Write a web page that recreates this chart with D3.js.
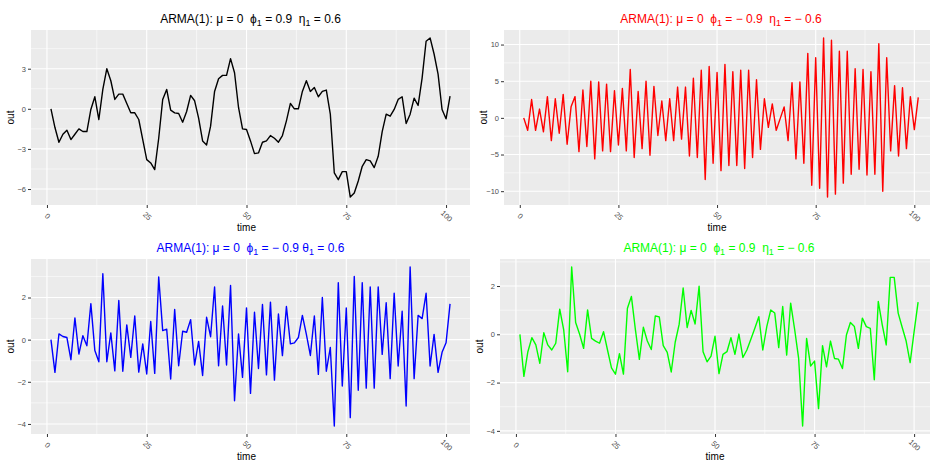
<!DOCTYPE html>
<html>
<head>
<meta charset="utf-8">
<script src="https://cdn.jsdelivr.net/npm/d3@7"></script>
<style>
  body { margin: 0; background: #fff; }
  svg { font-family: "Liberation Sans", Arial, sans-serif; }
  .title { white-space: pre; }
</style>
</head>
<body>
<svg id="chart" width="930" height="464"></svg>
<script>
// time index 1..101 (same for all four series)
const time = d3.range(1, 102)

// series values
const armaPos = [0, -1.4, -2.5, -1.9, -1.6, -2.3, -1.9, -1.5, -1.7, -1.7,
  -0.05, 0.9, -0.8, 1.45, 3.0, 2.1, 0.7, 1.1, 1.1, 0.4,
  -0.3, -0.3, -0.8, -2.3, -3.8, -4.05, -4.55, -2.2, 0.7, 1.45,
  -0.1, -0.3, -0.35, -1.0, -0.2, 1.0, 0.6, -0.7, -2.4, -2.7,
  -1.3, 1.3, 2.25, 2.5, 2.5, 3.75, 2.7, 0.1, -1.5, -1.55,
  -2.4, -3.35, -3.3, -2.5, -2.4, -2.0, -2.2, -2.5, -2.0, -0.9,
  0.4, 0.0, 0.0, 1.3, 2.1, 1.3, 1.6, 0.9, 1.3, 1.4,
  -0.4, -4.8, -5.3, -4.7, -4.7, -6.6, -6.3, -5.4, -4.3, -3.8,
  -3.9, -4.4, -3.55, -1.7, -0.4, -0.55, -0.05, 0.7, 0.9, -1.1,
  -0.4, 0.8, 0.25, 2.3, 5.05, 5.3, 4.1, 2.6, -0.05, -0.75, 0.95]

const armaNeg = [0, -1.7, 2.5, -1.7, 1.2, -1.9, 2.9, -3.1, 2.6, -2.1,
  3.2, -3.6, 1.5, 2.9, -4.6, 3.8, -3.9, 5.0, -5.6, 4.9,
  -4.5, 4.6, -4.6, 3.7, -3.7, 4.0, -4.5, 6.6, -5.4, 3.6,
  -4.2, 5.0, -5.1, 4.3, -2.4, 2.3, -3.1, 2.6, -3.1, 4.2,
  -2.9, 4.2, -5.2, 5.4, -5.4, 6.5, -8.4, 7.0, -6.2, 6.2,
  -7.2, 7.3, -6.5, 6.3, -6.5, 6.5, -6.9, 6.5, -5.4, 5.2,
  -4.3, 2.6, -1.3, 1.9, -1.7, -0.1, 1.5, -3.1, 4.8, -5.6,
  4.9, -6.2, 8.8, -9.2, 8.2, -9.6, 10.9, -10.8, 10.6, -10.4,
  9.1, -8.9, 9.1, -7.7, 6.7, -7.0, 6.6, -7.8, 6.3, -7.7,
  10.1, -10.0, 8.2, -4.5, 4.4, -5.2, 4.1, -4.2, 2.9, -1.6, 2.8]

const armaMixA = [0, -1.55, 0.27, 0.15, 0.1, -0.95, 1.03, -0.68, 0.19, -0.29,
  1.71, -0.52, -1.05, 3.13, -1.05, 0.32, -1.48, 1.86, -1.5, 0.7,
  -0.84, 1.12, -1.54, -0.2, -1.63, 0.86, -1.6, 2.97, 0.43, 0.5,
  -1.87, 1.43, -1.24, 0.4, 0.35, 0.95, -1.2, -0.08, -1.7, 1.06,
  0.14, 2.5, -1.24, 1.6, -1.2, 2.57, -2.9, 0.27, -1.79, 1.51,
  -2.55, 1.3, -1.37, 1.67, -1.67, 1.78, -1.92, 1.22, -0.76, 1.57,
  -0.2, -0.15, 0.1, 1.15, 0.25, -0.75, 1.12, -1.65, 2.0, -1.5,
  -0.37, -4.1, 2.7, -2.2, 1.5, -3.7, 3.0, -2.4, 2.7, -2.3,
  2.5, -2.3, 2.5, -0.7, 1.75, -1.85, 2.2, -1.25, 1.35, -3.15,
  3.45, -1.85, 1.15, 1.0, 2.2, -1.25, 0.25, -1.55, -0.6, -0.15, 1.7]

const armaMixB = [0, -1.74, -0.72, -0.14, -0.44, -1.2, 0.07, -0.44, -0.65, -0.37,
  1.04, 0.18, -1.55, 2.79, 0.49, 0.0, -0.58, 1.01, -0.17, -0.28,
  -0.37, 0.11, -0.65, -1.39, -1.65, -0.8, -1.65, 1.08, 1.57, 0.2,
  -1.04, 0.29, -0.28, -0.63, 0.76, 0.72, -0.47, -0.75, -1.56, -0.33,
  0.42, 1.92, 0.28, 0.99, 0.43, 1.99, -0.72, -1.14, -0.9, -0.08,
  -1.63, -0.83, -0.72, -0.14, -0.83, 0.01, -0.96, -0.65, -0.2, 0.25,
  0.73, -0.65, 0.32, 1.01, 0.88, -0.55, 1.15, -0.86, 1.29, 0.2,
  -1.0, -3.8, -0.17, -1.31, -1.11, -3.08, -0.47, -1.35, -0.28, -1.0,
  -1.03, -1.42, -0.03, 0.49, 0.32, -0.58, 0.67, 0.32, 0.25, -1.88,
  1.36, 0.39, -0.44, 2.36, 2.36, 0.88, 0.29, -0.28, -1.17, 0.11, 1.33]

// axis breaks
const xBreaks = [0, 25, 50, 75, 100]
const yBreaksPos = [-6, -3, 0, 3]
const yBreaksNeg = [-10, -5, 0, 5, 10]
const yBreaksMix = [-4, -2, 0, 2]

// title pieces: [text, isSubscript]
const titlePos = [['ARMA(1): μ = 0  ϕ', 0], ['1', 1], [' = 0.9  η', 0], ['1', 1], [' = 0.6', 0]]
const titleNeg = [['ARMA(1): μ = 0  ϕ', 0], ['1', 1], [' = − 0.9  η', 0], ['1', 1], [' = − 0.6', 0]]
const titleMixA = [['ARMA(1): μ = 0  ϕ', 0], ['1', 1], [' = − 0.9 θ', 0], ['1', 1], [' = 0.6', 0]]
const titleMixB = [['ARMA(1): μ = 0  ϕ', 0], ['1', 1], [' = 0.9  η', 0], ['1', 1], [' = − 0.6', 0]]

const svg = d3.select('#chart')

// one ggplot-like panel
function drawPanel(values, colour, title, yBreaks, box) {
  const g = svg.append('g')
  const data = time.map((t, i) => ({ t: t, v: values[i] }))

  // ggplot adds 5% on each side of the data range
  const xr = d3.extent(time), yr = d3.extent(values)
  const xPad = (xr[1] - xr[0]) * 0.05, yPad = (yr[1] - yr[0]) * 0.05
  const x = d3.scaleLinear().domain([xr[0] - xPad, xr[1] + xPad]).range([box.left, box.right])
  const y = d3.scaleLinear().domain([yr[0] - yPad, yr[1] + yPad]).range([box.bottom, box.top])

  // grey background
  g.append('rect')
    .attr('x', box.left).attr('y', box.top)
    .attr('width', box.right - box.left).attr('height', box.bottom - box.top)
    .attr('fill', '#ebebeb')

  // minor grid at the midpoints between breaks
  const xStep = xBreaks[1] - xBreaks[0], yStep = yBreaks[1] - yBreaks[0]
  const xMinor = d3.range(xBreaks[0] - xStep / 2, xBreaks[xBreaks.length - 1] + xStep, xStep)
    .filter(d => d >= x.domain()[0] && d <= x.domain()[1])
  const yMinor = d3.range(yBreaks[0] - yStep / 2, yBreaks[yBreaks.length - 1] + yStep, yStep)
    .filter(d => d >= y.domain()[0] && d <= y.domain()[1])

  g.selectAll('.xminor').data(xMinor).enter().append('line')
    .attr('x1', d => x(d)).attr('x2', d => x(d))
    .attr('y1', box.top).attr('y2', box.bottom)
    .attr('stroke', '#fff').attr('stroke-width', 0.55)
  g.selectAll('.yminor').data(yMinor).enter().append('line')
    .attr('y1', d => y(d)).attr('y2', d => y(d))
    .attr('x1', box.left).attr('x2', box.right)
    .attr('stroke', '#fff').attr('stroke-width', 0.55)

  // major grid
  g.selectAll('.xmajor').data(xBreaks).enter().append('line')
    .attr('x1', d => x(d)).attr('x2', d => x(d))
    .attr('y1', box.top).attr('y2', box.bottom)
    .attr('stroke', '#fff').attr('stroke-width', 1.1)
  g.selectAll('.ymajor').data(yBreaks).enter().append('line')
    .attr('y1', d => y(d)).attr('y2', d => y(d))
    .attr('x1', box.left).attr('x2', box.right)
    .attr('stroke', '#fff').attr('stroke-width', 1.1)

  // the series
  g.append('path')
    .datum(data)
    .attr('fill', 'none')
    .attr('stroke', colour)
    .attr('stroke-width', 1.4)
    .attr('stroke-linejoin', 'round')
    .attr('d', d3.line().x(d => x(d.t)).y(d => y(d.v)))

  // y axis
  const yAxis = g.append('g')
    .attr('transform', 'translate(' + box.left + ',0)')
    .call(d3.axisLeft(y).tickValues(yBreaks).tickSize(3).tickPadding(2))
  yAxis.select('.domain').remove()
  yAxis.selectAll('line').attr('stroke', '#333')
  yAxis.selectAll('text').attr('fill', '#4d4d4d').style('font-size', '7.5px')
    .style('font-family', '"Liberation Sans", Arial, sans-serif')

  // x axis, labels turned 45 degrees
  const xAxis = g.append('g')
    .attr('transform', 'translate(0,' + box.bottom + ')')
    .call(d3.axisBottom(x).tickValues(xBreaks).tickSize(3))
  xAxis.select('.domain').remove()
  xAxis.selectAll('line').attr('stroke', '#333')
  xAxis.selectAll('text')
    .attr('fill', '#4d4d4d').style('font-size', '7.5px')
    .style('font-family', '"Liberation Sans", Arial, sans-serif')
    .attr('y', 0).attr('dy', '0.35em')
    .attr('text-anchor', 'middle')
    .attr('transform', 'translate(0,11) rotate(45)')

  // axis titles
  g.append('text')
    .attr('x', (box.left + box.right) / 2 - 4)
    .attr('y', box.bottom + 26)
    .attr('text-anchor', 'middle')
    .style('font-size', '10px')
    .text('time')
  g.append('text')
    .attr('transform', 'translate(' + (box.left - 17) + ',' + (box.top + box.bottom) / 2 + ') rotate(-90)')
    .attr('text-anchor', 'middle')
    .style('font-size', '10px')
    .text('out')

  // plot title with subscripts
  const t = g.append('text')
    .attr('class', 'title')
    .attr('x', (box.left + box.right) / 2)
    .attr('y', box.top - 7)
    .attr('text-anchor', 'middle')
    .attr('fill', colour)
    .style('font-size', '12px')
  let shifted = 0
  title.forEach(function (p) {
    const dy = p[1] ? 3 - shifted : -shifted
    shifted = p[1] ? 3 : 0
    t.append('tspan')
      .attr('dy', dy)
      .style('font-size', p[1] ? '9px' : '12px')
      .text(p[0])
  })
}

drawPanel(armaPos, '#000000', titlePos, yBreaksPos, { left: 31, right: 470, top: 30, bottom: 205 })
drawPanel(armaNeg, '#ff0000', titleNeg, yBreaksNeg, { left: 504, right: 938, top: 30, bottom: 205 })
drawPanel(armaMixA, '#0000ff', titleMixA, yBreaksMix, { left: 31, right: 470, top: 259, bottom: 434 })
drawPanel(armaMixB, '#00ff00', titleMixB, yBreaksMix, { left: 500, right: 938, top: 259, bottom: 434 })
</script>
</body>
</html>
